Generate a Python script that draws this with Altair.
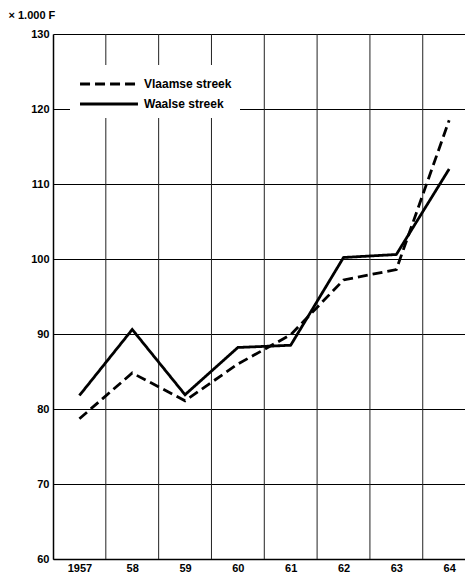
import altair as alt
import pandas as pd

years = [1957, 1958, 1959, 1960, 1961, 1962, 1963, 1964]
tick_labels = ["1957", "58", "59", "60", "61", "62", "63", "64"]
vlaamse = [78.7, 84.8, 81.1, 86.0, 89.9, 97.2, 98.6, 118.5]
waalse = [81.8, 90.6, 81.9, 88.2, 88.5, 100.2, 100.6, 112.0]
series = ["Vlaamse streek", "Waalse streek"]

rows = []
for y, v in zip(years, vlaamse):
    rows.append({"year": y, "value": v, "streek": series[0]})
for y, v in zip(years, waalse):
    rows.append({"year": y, "value": v, "streek": series[1]})
df = pd.DataFrame(rows)

# year boundaries for vertical grid lines
bounds = pd.DataFrame({"year": [y + 0.5 for y in years[:-1]]})

label_expr = " : ".join(
    [f"datum.value == {y} ? '{t}'" for y, t in zip(years, tick_labels)]
) + " : ''"

FONT = "Liberation Sans"
xscale = alt.Scale(domain=[1956.5, 1964.3], nice=False, zero=False)
yscale = alt.Scale(domain=[60, 130], nice=False, zero=False)

xaxis = alt.Axis(
    values=years,
    labelExpr=label_expr,
    grid=False,
    ticks=False,
    title=None,
    domainColor="black",
    domainWidth=1.5,
    labelFont=FONT,
    labelFontSize=11,
    labelFontWeight="bold",
    labelColor="black",
    labelPadding=3,
)

grid = alt.Chart(bounds).mark_rule(color="#222", strokeWidth=1).encode(
    x=alt.X("year:Q", scale=xscale, axis=xaxis)
)

lines = alt.Chart(df).mark_line(color="black", strokeWidth=2.8).encode(
    x=alt.X("year:Q", scale=xscale, axis=xaxis),
    y=alt.Y(
        "value:Q",
        scale=yscale,
        axis=alt.Axis(
            values=[60, 70, 80, 90, 100, 110, 120, 130],
            grid=True,
            gridColor="black",
            gridWidth=1.2,
            gridOpacity=1,
            ticks=False,
            domainColor="black",
            domainWidth=1.5,
            labelFont=FONT,
            labelFontSize=11,
            labelFontWeight="bold",
            labelColor="black",
            labelPadding=4,
            title="\u00d7 1.000 F",
            titleAngle=0,
            titleAlign="left",
            titleBaseline="alphabetic",
            titleX=-45,
            titleY=-16,
            titleFont=FONT,
            titleFontSize=11,
            titleFontWeight="bold",
            titleColor="black",
        ),
    ),
    strokeDash=alt.StrokeDash(
        "streek:N",
        scale=alt.Scale(domain=series, range=[[10, 5], [1, 0]]),
        legend=alt.Legend(
            title=None,
            orient="none",
            legendX=17,
            legendY=31,
            fillColor="white",
            padding=8,
            symbolType="M-3.05,0H3.05",
            symbolSize=361,
            symbolStrokeWidth=3,
            symbolStrokeColor="black",
            symbolOffset=20,
            labelFont=FONT,
            labelFontSize=12,
            labelFontWeight="bold",
            labelColor="black",
            labelOffset=24,
            rowPadding=3,
        ),
    ),
)

chart = (
    alt.layer(grid, lines)
    .properties(
        width=412,
        height=525,
        autosize=alt.AutoSizeParams(type="none"),
        padding={"left": 45, "top": 26, "right": 0, "bottom": 14},
    )
    .configure_view(stroke=None)
    .configure(background="white")
)

chart.save("out.html", embed_options={"renderer": "svg", "actions": False})
